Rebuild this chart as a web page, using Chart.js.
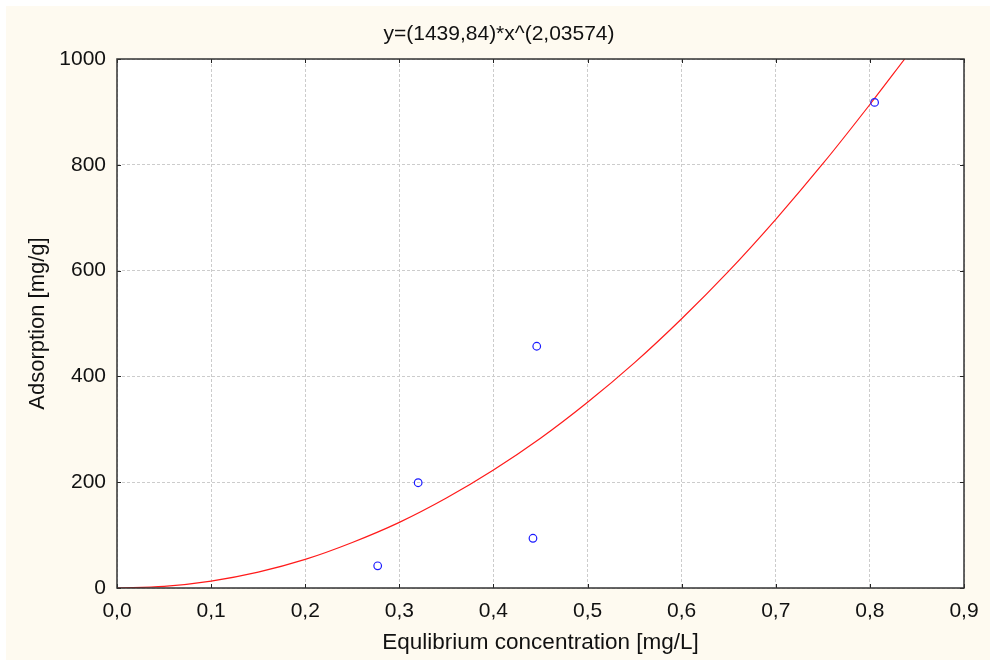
<!DOCTYPE html>
<html>
<head>
<meta charset="utf-8">
<script src="https://cdn.jsdelivr.net/npm/chart.js@4.4.0/dist/chart.umd.min.js"></script>
<style>
  body { margin: 0; background: #ffffff; }
  canvas { display: block; }
</style>
</head>
<body>
<canvas id="fig1" width="990" height="660"></canvas>
<script>
// measured points
var ptX = [0.277, 0.320, 0.442, 0.446, 0.805];
var ptY = [42, 199, 94, 457, 918];

// fitted curve
var curveX = [0, 0.05, 0.1, 0.15, 0.2, 0.25, 0.3, 0.35, 0.4, 0.45, 0.5, 0.55, 0.6, 0.65, 0.7, 0.75, 0.8, 0.837];
var curveY = [0, 3, 13, 30, 54, 86, 124, 170, 223, 283, 351, 426, 509, 599, 697, 802, 914, 1000];

var titleText = "y=(1439,84)*x^(2,03574)";
var xTitle = "Equlibrium concentration [mg/L]";
var yTitle = "Adsorption [mg/g]";

var FONT = "'Liberation Sans', Arial, sans-serif";

function pairs(xs, ys) {
  return xs.map(function (x, i) { return { x: x, y: ys[i] }; });
}

var framePlugin = {
  id: 'frame',
  beforeDraw: function (chart) {
    var ctx = chart.ctx, a = chart.chartArea;
    ctx.save();
    ctx.fillStyle = '#ffffff';
    ctx.fillRect(0, 0, chart.width, chart.height);
    ctx.fillStyle = '#fefaf0';
    ctx.fillRect(6, 6, chart.width - 6, chart.height - 6);
    ctx.fillStyle = '#ffffff';
    ctx.fillRect(a.left, a.top, a.right - a.left, a.bottom - a.top);
    ctx.restore();
  },
  afterDraw: function (chart) {
    var ctx = chart.ctx, a = chart.chartArea;
    var xs = chart.scales.x, ys = chart.scales.y;
    ctx.save();
    // little inward ticks on all four sides
    ctx.strokeStyle = '#222';
    ctx.lineWidth = 1;
    ctx.beginPath();
    xs.ticks.forEach(function (t) {
      var px = Math.round(xs.getPixelForValue(t.value)) + 0.5;
      ctx.moveTo(px, a.top); ctx.lineTo(px, a.top + 4);
      ctx.moveTo(px, a.bottom); ctx.lineTo(px, a.bottom - 4);
    });
    ys.ticks.forEach(function (t) {
      var py = Math.round(ys.getPixelForValue(t.value)) + 0.5;
      ctx.moveTo(a.left, py); ctx.lineTo(a.left + 4, py);
      ctx.moveTo(a.right, py); ctx.lineTo(a.right - 4, py);
    });
    ctx.stroke();
    // box
    ctx.strokeStyle = '#333';
    ctx.lineWidth = 1.5;
    ctx.strokeRect(a.left, a.top, a.right - a.left, a.bottom - a.top);
    // title
    ctx.fillStyle = '#111';
    ctx.font = '21px ' + FONT;
    ctx.textAlign = 'center';
    ctx.textBaseline = 'middle';
    ctx.fillText(titleText, 499, 34);
    ctx.restore();
  }
};

function fmtComma(v) {
  return Number(v).toFixed(1).replace('.', ',');
}

var fig1 = document.getElementById('fig1').getContext('2d');
new Chart(fig1, {
  type: 'scatter',
  data: {
    datasets: [
      {
        label: 'data',
        data: pairs(ptX, ptY),
        showLine: false,
        pointStyle: 'circle',
        pointRadius: 3.8,
        pointBorderWidth: 1.2,
        pointBorderColor: '#1a1aff',
        pointBackgroundColor: 'rgba(0,0,0,0)'
      },
      {
        label: 'fit',
        data: pairs(curveX, curveY),
        showLine: true,
        borderColor: '#ff1a1a',
        borderWidth: 1.2,
        pointRadius: 0,
        cubicInterpolationMode: 'monotone',
        fill: false
      }
    ]
  },
  options: {
    responsive: false,
    animation: false,
    devicePixelRatio: 1,
    layout: { padding: { top: 59, right: 26, left: 0, bottom: 0 } },
    plugins: {
      legend: { display: false },
      title: { display: false },
      tooltip: { enabled: false }
    },
    scales: {
      x: {
        type: 'linear',
        min: 0,
        max: 0.9,
        afterFit: function (s) { s.height = 72; },
        border: { display: false, dash: [3, 2] },
        grid: { color: '#cccccc', drawTicks: false, tickLength: 0 },
        ticks: {
          stepSize: 0.1,
          padding: 11,
          color: '#111',
          font: { family: FONT, size: 21 },
          maxRotation: 0,
          callback: function (v) { return fmtComma(v); }
        },
        title: {
          display: true,
          text: xTitle,
          color: '#111',
          font: { family: FONT, size: 22.5 },
          padding: { top: 4, bottom: 4 }
        }
      },
      y: {
        type: 'linear',
        min: 0,
        max: 1000,
        afterFit: function (s) { s.width = 117; },
        border: { display: false, dash: [3, 2] },
        grid: { color: '#cccccc', drawTicks: false, tickLength: 0 },
        ticks: {
          stepSize: 200,
          padding: 11,
          color: '#111',
          font: { family: FONT, size: 21 },
          callback: function (v) { return String(v); }
        },
        title: {
          display: true,
          text: yTitle,
          color: '#111',
          font: { family: FONT, size: 22 },
          padding: { top: 25, bottom: 25 }
        }
      }
    }
  },
  plugins: [framePlugin]
});
</script>
</body>
</html>
